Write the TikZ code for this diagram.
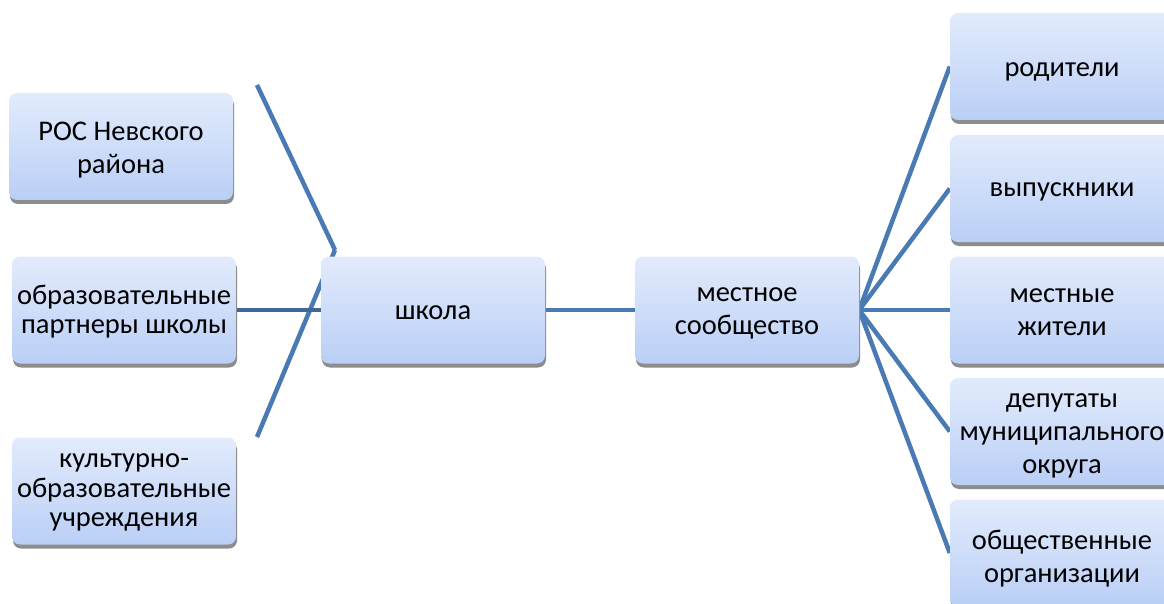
\documentclass[tikz,border=0pt]{standalone}
\usepackage{fontspec}
\setmainfont{Carlito}
\usetikzlibrary{shadows,backgrounds}
\definecolor{linec}{HTML}{4A7AB4}
\definecolor{linedark}{HTML}{3F6899}
\definecolor{boxtop}{HTML}{E2EBFC}
\definecolor{boxbot}{HTML}{BACFF6}
\newcommand\myup[1]{\rule{0pt}{#1pt}}
\tikzset{
  box/.style={rectangle, rounded corners=8pt, minimum width=224pt, minimum height=107pt,
    inner sep=0pt, top color=boxtop, bottom color=boxbot, draw=none,
    align=center, font=\fontsize{28.5}{33}\selectfont, text=black,
    drop shadow={shadow xshift=1pt, shadow yshift=-4pt, fill=black!45, opacity=1}},
  tight/.style={font=\fontsize{28.5}{29.5}\selectfont},
  link/.style={draw=linec, line width=4.5pt},
}
\begin{document}
\begin{tikzpicture}[x=1pt,y=-1pt]
\useasboundingbox (0,0) rectangle (1164,604);
\clip (0,0) rectangle (1164,604);
\node[box] (ros) at (121,146.5) {\myup{25}РОС Невского\\района};
\node[box,tight] (obr) at (124,310) {\myup{23}образовательные\\партнеры школы};
\node[box,tight] (kult) at (124,491) {\myup{17.5}культурно-\\образовательные\\учреждения};
\node[box] (school) at (433,310) {\myup{19.5}школа};
\node[box] (mest) at (747,310) {\myup{20.5}местное\\сообщество};
\node[box] (r1) at (1062,66.5) {\myup{25}родители};
\node[box] (r2) at (1062,188.5) {\myup{21}выпускники};
\node[box] (r3) at (1062,310) {\myup{19}местные\\жители};
\node[box] (r4) at (1062,431.5) {\myup{22}депутаты\\муниципального\\округа};
\node[box] (r5) at (1062,553) {\myup{30}общественные\\организации};
\coordinate (top) at (257,85);
\coordinate (bot) at (257,437);
\coordinate (meet) at (335,250);
\begin{pgfonlayer}{background}
\draw[link] (top) -- (meet);
\draw[link] (bot) -- (meet);
\draw[link, draw=linedark] (obr.east) -- (school.west);
\draw[link] (school.east) -- (mest.west);
\foreach \r in {r1,r2,r3,r4,r5} \draw[link] (mest.east) -- (\r.west);
\end{pgfonlayer}
\end{tikzpicture}
\end{document}
